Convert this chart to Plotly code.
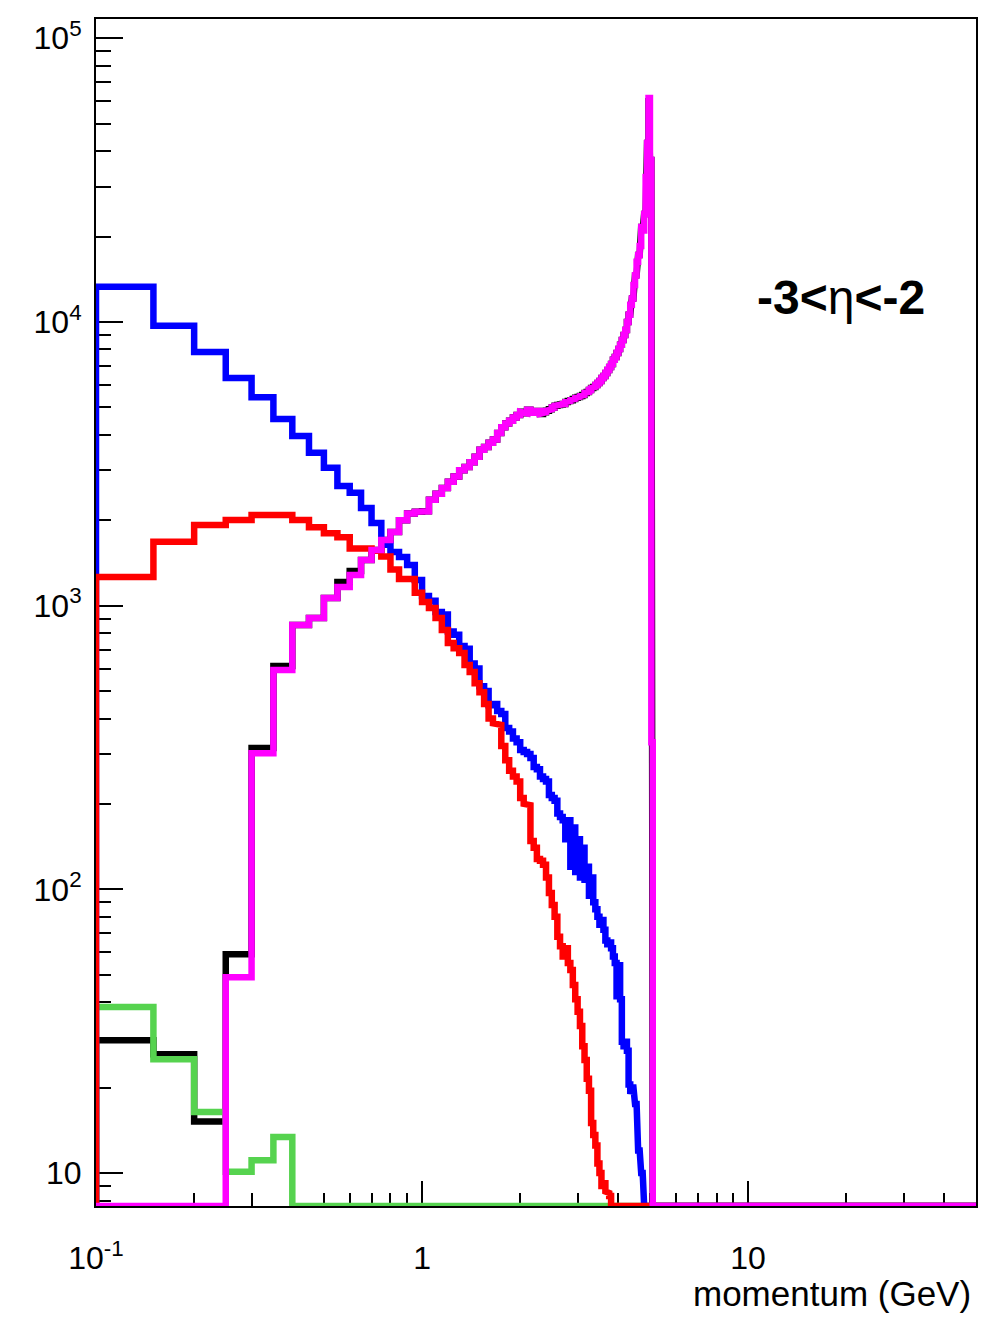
import numpy as np
import plotly.graph_objects as go

# Histogram binning: uniform 0.05 GeV bins, first drawn bin starts at 0.1 GeV
BIN_WIDTH = 0.05
FIRST_EDGE = 0.10
X_MAX = 50.0

# Bin contents, starting at the 0.10-0.15 GeV bin (bins beyond the lists are empty)
magenta = [
    0, 0, 0, 49, 302, 593, 855, 904, 1064, 1163,
    1283, 1449, 1571, 1703, 1816, 2000, 2110, 2140, 2150, 2360,
    2480, 2600, 2730, 2850, 3000, 3080, 3200, 3350, 3540, 3620,
    3750, 3850, 4060, 4250, 4380, 4480, 4600, 4700, 4820, 4760,
    4900, 4780, 4800, 4850, 4740, 4800, 4860, 4920, 4990, 5060,
    5090, 5120, 5140, 5220, 5260, 5300, 5350, 5400, 5440, 5480,
    5530, 5620, 5660, 5750, 5850, 5900, 5990, 6090, 6190, 6340,
    6450, 6600, 6770, 6940, 7110, 7350, 7520, 7770, 8030, 8300,
    8640, 9000, 9370, 10000, 10600, 11500, 12100, 13500, 14600, 16300,
    17200, 18500, 21600, 21000, 24000, 32400, 42700, 61500, 37200, 330,
]

black = [
    29.4, 26.2, 15.2, 59, 315, 612, 855, 904, 1064, 1211,
    1325, 1449, 1571, 1703, 1816, 2000, 2110, 2140, 2150, 2360,
    2480, 2600, 2730, 2850, 3000, 3080, 3200, 3350, 3540, 3620,
    3750, 3850, 4060, 4250, 4380, 4480, 4600, 4700, 4820, 4760,
    4900, 4780, 4800, 4850, 4740, 4800, 4860, 4920, 4990, 5060,
    5090, 5120, 5140, 5220, 5260, 5300, 5350, 5400, 5440, 5480,
    5530, 5620, 5660, 5750, 5850, 5900, 5990, 6090, 6190, 6340,
    6450, 6600, 6770, 6940, 7110, 7350, 7520, 7770, 8030, 8300,
    8640, 9000, 9370, 10000, 10600, 11500, 12100, 13500, 14600, 16300,
    17200, 18500, 21600, 21000, 24000, 32400, 42700, 61500, 37200, 330,
]

green = [38.5, 25.2, 16.4, 10.1, 11.1, 13.4]

blue = [
    13300, 9700, 7830, 6340, 5430, 4550, 3960, 3460, 3060, 2640,
    2500, 2210, 1955, 1640, 1545, 1483, 1390, 1231, 1080, 1040,
    950, 930, 810, 790, 720, 705, 625, 600, 520, 500,
    445, 450, 425, 415, 370, 360, 340, 330, 310, 305,
    300, 290, 270, 265, 250, 245, 240, 215, 210, 205,
    185, 180, 175, 150, 175, 120, 165, 115, 150, 110,
    140, 108, 120, 95, 110, 90, 85, 80, 75, 78,
    72, 66, 64, 65, 62, 58, 55, 42, 54, 41,
    29, 28, 29, 27, 20.5, 19, 20, 18, 17.5, 16,
    12, 10.2, 10, 8.5,
]

red = [
    1262, 1680, 1923, 2004, 2086, 2086, 2004, 1890, 1800, 1740,
    1590, 1590, 1560, 1490, 1340, 1240, 1240, 1110, 1030, 980,
    904, 820, 738, 708, 680, 617, 583, 533, 495, 450,
    400, 385, 380, 320, 285, 262, 250, 240, 210, 200,
    198, 148, 140, 128, 126, 122, 110, 97, 88, 80,
    68, 63, 58, 62, 55, 52, 46, 41, 37, 33,
    28, 25, 21.5, 19.5, 15, 13.6, 12.5, 10.8, 10, 9,
    9.2, 8.6, 8.5, 8.3,
]

# Axis ranges (y in log10 units)
X_RANGE = [-1.0, np.log10(X_MAX)]
Y_RANGE = [0.8837, 5.0677]


def outline(values):
    """Step outline of a histogram; empty bins sit on the frame floor."""
    n_bins = int(round((X_MAX - FIRST_EDGE) / BIN_WIDTH))
    content = np.zeros(n_bins)
    content[:len(values)] = values
    edges = FIRST_EDGE + BIN_WIDTH * np.arange(n_bins + 1)
    floor = 10 ** Y_RANGE[0]
    content = np.where(content > 0, content, floor)
    xs = np.concatenate([[edges[0]], np.repeat(edges, 2)[1:-1], [edges[-1]]])
    ys = np.concatenate([[floor], np.repeat(content, 2), [floor]])
    return xs, ys


fig = go.Figure()
for vals, color in [
    (black, "#000000"),
    (green, "#56d34f"),
    (blue, "#0000ff"),
    (red, "#ff0000"),
    (magenta, "#ff00ff"),
]:
    xs, ys = outline(vals)
    fig.add_trace(go.Scatter(x=xs, y=ys, mode="lines",
                             line=dict(color=color, width=6.5),
                             hoverinfo="skip", showlegend=False))

FONT = "Liberation Sans, Arial, Helvetica, sans-serif"

x_minor = [k * 10.0 ** d for d in (-1, 0, 1) for k in range(2, 10) if k * 10.0 ** d < X_MAX]
y_minor = [k * 10.0 ** d for d in range(0, 5) for k in range(2, 10)
           if Y_RANGE[0] < np.log10(k * 10.0 ** d) < Y_RANGE[1]]

fig.update_xaxes(
    type="log", range=X_RANGE,
    showline=True, linewidth=2, linecolor="black", mirror=True,
    showgrid=False, zeroline=False,
    ticks="inside", ticklen=25, tickwidth=2, tickcolor="black",
    tickvals=[0.1, 1, 10], ticktext=["10<sup>-1</sup>", "1", "10"],
    tickfont=dict(family=FONT, size=32, color="black"),
    ticklabelstandoff=23,
    minor=dict(tickvals=x_minor, ticks="inside", ticklen=13, tickwidth=2,
               tickcolor="black", showgrid=False),
    layer="below traces",
)
fig.update_yaxes(
    type="log", range=Y_RANGE,
    showline=True, linewidth=2, linecolor="black", mirror=True,
    showgrid=False, zeroline=False,
    ticks="inside", ticklen=27, tickwidth=2, tickcolor="black",
    tickvals=[10, 100, 1000, 10000, 100000],
    ticktext=["10", "10<sup>2</sup>", "10<sup>3</sup>", "10<sup>4</sup>", "10<sup>5</sup>"],
    tickfont=dict(family=FONT, size=32, color="black"),
    ticklabelstandoff=6,
    minor=dict(tickvals=y_minor, ticks="inside", ticklen=15, tickwidth=2,
               tickcolor="black", showgrid=False),
    layer="below traces",
)

fig.add_annotation(
    text="momentum (GeV)", xref="paper", yref="paper", x=1, y=0,
    xanchor="right", yanchor="middle", xshift=-3, yshift=-87, showarrow=False,
    font=dict(family=FONT, size=35, color="black"),
)
fig.add_annotation(
    text="<b>-3&lt;</b>η<b>&lt;-2</b>", xref="paper", yref="paper",
    x=0.847, y=0.765, xanchor="center", yanchor="middle", showarrow=False,
    font=dict(family=FONT, size=48, color="black"),
)

fig.update_layout(
    width=989, height=1317,
    margin=dict(l=96, r=11, t=19, b=111),
    paper_bgcolor="white", plot_bgcolor="white",
    showlegend=False,
    font=dict(family=FONT, color="black"),
)

fig.write_html("out.html")
